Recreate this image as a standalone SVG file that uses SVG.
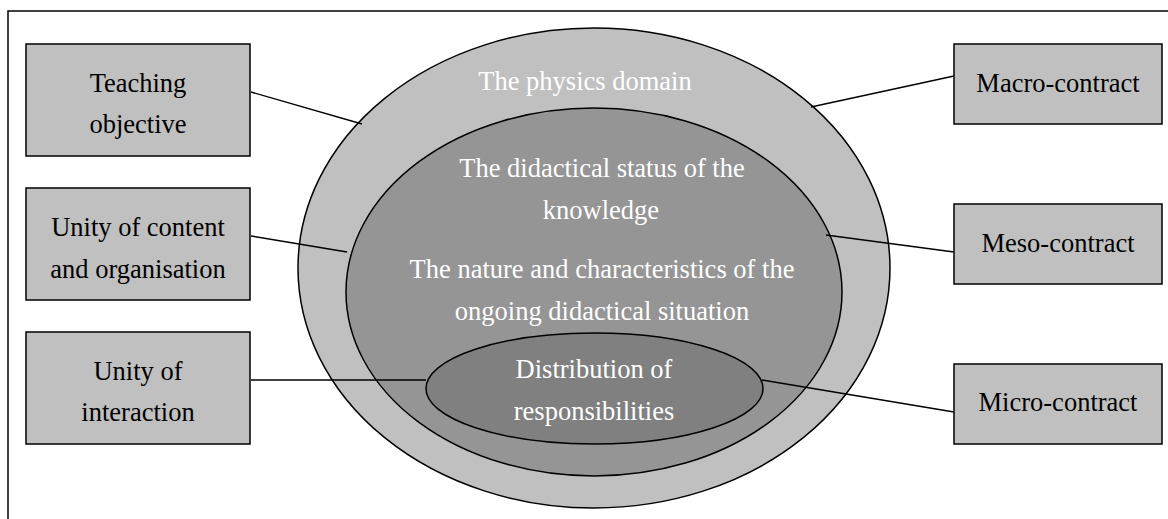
<svg xmlns="http://www.w3.org/2000/svg" width="1168" height="519" viewBox="0 0 1168 519">
<style>
.box{fill:#c0c0c0;stroke:#000;stroke-width:1.5}
.t{font-family:"Liberation Serif","Times New Roman",serif;font-size:26.5px;text-anchor:middle}
.dark{fill:#000}
.light{fill:#fff}
.conn{stroke:#000;stroke-width:1.4;fill:none}
.ell{stroke:#000;stroke-width:1.5}
</style>
<rect x="8" y="11" width="1175" height="530" fill="#fff" stroke="#000" stroke-width="1.5"/>
<g id="physics-domain">
<ellipse class="ell" cx="594" cy="268" rx="296" ry="240" fill="#c0c0c0"/>
<text class="t light" x="585" y="90">The physics domain</text>
</g>
<g id="didactical-situation">
<ellipse class="ell" cx="594" cy="292" rx="248" ry="184" fill="#959595"/>
<text class="t light" x="602" y="177">The didactical status of the</text>
<text class="t light" x="601" y="219">knowledge</text>
<text class="t light" x="602" y="278">The nature and characteristics of the</text>
<text class="t light" x="602" y="320">ongoing didactical situation</text>
</g>
<g id="distribution">
<ellipse class="ell" cx="594.5" cy="388.5" rx="168.5" ry="55.5" fill="#808080"/>
<text class="t light" x="594" y="378">Distribution of</text>
<text class="t light" x="594" y="420">responsibilities</text>
</g>
<g id="connectors">
<line class="conn" x1="251" y1="92" x2="362" y2="124"/>
<line class="conn" x1="251" y1="236" x2="347" y2="252"/>
<line class="conn" x1="251" y1="380" x2="426" y2="380"/>
<line class="conn" x1="954" y1="76" x2="811" y2="107"/>
<line class="conn" x1="954" y1="252" x2="826" y2="235"/>
<line class="conn" x1="954" y1="412" x2="762" y2="380"/>
</g>
<g id="teaching-objective">
<rect class="box" x="26" y="44" width="224" height="112"/>
<text class="t dark" x="138" y="92">Teaching</text>
<text class="t dark" x="138" y="133">objective</text>
</g>
<g id="unity-content">
<rect class="box" x="26" y="188" width="224" height="112"/>
<text class="t dark" x="138" y="236">Unity of content</text>
<text class="t dark" x="138" y="278">and organisation</text>
</g>
<g id="unity-interaction">
<rect class="box" x="26" y="332" width="224" height="112"/>
<text class="t dark" x="138" y="380">Unity of</text>
<text class="t dark" x="138" y="421">interaction</text>
</g>
<g id="macro-contract">
<rect class="box" x="954" y="44" width="208" height="80"/>
<text class="t dark" x="1058" y="92">Macro-contract</text>
</g>
<g id="meso-contract">
<rect class="box" x="954" y="204" width="208" height="80"/>
<text class="t dark" x="1058" y="252">Meso-contract</text>
</g>
<g id="micro-contract">
<rect class="box" x="954" y="364" width="208" height="80"/>
<text class="t dark" x="1058" y="411">Micro-contract</text>
</g>
</svg>
